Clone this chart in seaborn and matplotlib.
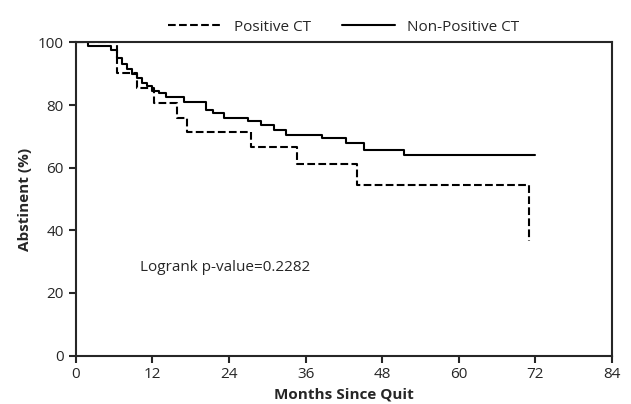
import matplotlib

matplotlib.use("Agg")

import matplotlib.pyplot as plt
import pandas as pd
import seaborn as sns

# Kaplan-Meier step points: (months, abstinent %)
POS_MONTHS = [0, 6.4, 9.6, 12.2, 15.8, 17.4, 27.5, 34.7, 44.1, 71.0, 71.0]
POS_VALUES = [100, 90.3, 85.5, 80.6, 75.8, 71.3, 66.5, 61.3, 54.5, 54.5, 36.5]
NEG_MONTHS = [0, 2.0, 5.5, 6.5, 7.3, 8.0, 8.8, 9.6, 10.4, 11.2, 12.0, 13.0, 14.2,
              17.0, 20.4, 21.5, 23.2, 27.0, 29.0, 31.0, 33.0, 38.5, 42.3, 45.2, 51.4, 72.0]
NEG_VALUES = [100, 98.7, 97.5, 95.0, 93.0, 91.5, 90.0, 88.5, 87.0, 86.0, 84.5, 84.0, 82.5,
              81.0, 78.5, 77.5, 76.0, 75.0, 73.5, 72.0, 70.3, 69.5, 68.0, 65.8, 64.2, 64.2]
X_TICKS = [0, 12, 24, 36, 48, 60, 72, 84]
Y_TICKS = [0, 20, 40, 60, 80, 100]

sns.set_theme(style="ticks")
plt.rcParams["font.family"] = ["Open Sans", "DejaVu Sans"]

frame = pd.concat([
    pd.DataFrame({"months": POS_MONTHS, "abstinent": POS_VALUES, "group": "Positive CT"}),
    pd.DataFrame({"months": NEG_MONTHS, "abstinent": NEG_VALUES, "group": "Non-Positive CT"}),
])

fig, ax = plt.subplots(figsize=(6.31, 4.04), dpi=100)
for name, style in [("Positive CT", "--"), ("Non-Positive CT", "-")]:
    sub = frame[frame["group"] == name]
    ax.step(sub["months"], sub["abstinent"], where="post", color="black",
            linestyle=style, linewidth=1.5, label=name)

ax.set_xlim(0, 84)
ax.set_ylim(0, 100)
ax.set_xticks(X_TICKS)
ax.set_yticks(Y_TICKS)
ax.tick_params(labelsize=11, width=1.5, length=5)
for spine in ax.spines.values():
    spine.set_linewidth(1.5)
ax.set_xlabel("Months Since Quit", fontsize=11, fontweight="bold")
ax.set_ylabel("Abstinent (%)", fontsize=11, fontweight="bold")
ax.text(10, 27, "Logrank p-value=0.2282", fontsize=11)
ax.legend(loc="lower center", bbox_to_anchor=(0.5, 1.0), ncol=2, frameon=False,
          fontsize=11, handlelength=3.5, columnspacing=2, borderaxespad=0.1)

fig.subplots_adjust(left=0.12, right=0.97, top=0.895, bottom=0.12)
fig.savefig("out.png", dpi=100)
plt.close(fig)
